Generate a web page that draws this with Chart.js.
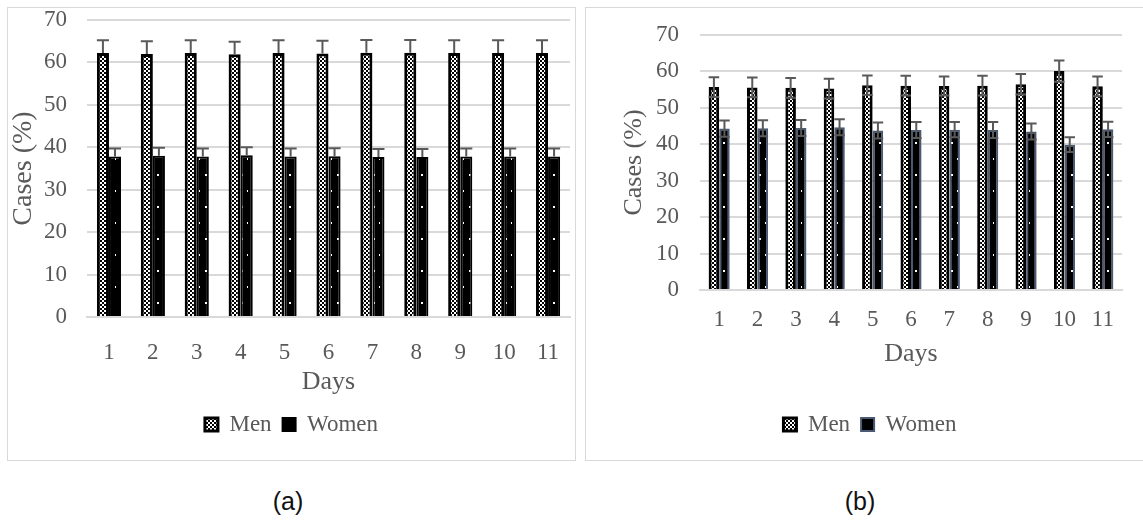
<!DOCTYPE html>
<html>
<head>
<meta charset="utf-8">
<script src="https://cdn.jsdelivr.net/npm/chart.js@4.4.1/dist/chart.umd.min.js"></script>
<style>
  body { margin: 0; background: #fff; width: 1143px; height: 527px; position: relative; overflow: hidden; }
  .panel { position: absolute; top: 7px; border: 1px solid #d9d9d9; background: #fff; }
  #pa { left: 7px; width: 567px; height: 452px; }
  #pb { left: 585px; width: 594px; height: 452px; }
  canvas { display: block; }
  .cap { position: absolute; top: 487px; font: 25px "Liberation Sans", Arial, sans-serif; color: #111; transform: translateX(-50%); }
</style>
</head>
<body>
<div class="panel" id="pa"><canvas id="ca" width="567" height="452"></canvas></div>
<div class="panel" id="pb"><canvas id="cb" width="594" height="452"></canvas></div>
<div class="cap" style="left:288px">(a)</div>
<div class="cap" style="left:860px">(b)</div>
<script>
// Day categories shared by both panels
const days = ['1', '2', '3', '4', '5', '6', '7', '8', '9', '10', '11'];

// Panel (a): share of cases (%) by sex, with upper error
const menA   = [62.2, 62.0, 62.2, 61.9, 62.2, 62.1, 62.3, 62.3, 62.2, 62.2, 62.2];
const womenA = [37.8, 38.0, 37.8, 38.1, 37.8, 37.9, 37.7, 37.7, 37.8, 37.8, 37.8];
const errMenA   = [3.0, 3.0, 3.0, 3.0, 3.0, 3.0, 3.0, 3.0, 3.0, 3.0, 3.0];
const errWomenA = [1.9, 1.9, 1.9, 1.9, 1.9, 1.9, 1.9, 1.9, 1.9, 1.9, 1.9];

// Panel (b): share of cases (%) by sex, with symmetric error
const menB   = [55.7, 55.6, 55.5, 55.3, 56.2, 56.1, 56.0, 56.1, 56.5, 60.1, 55.9];
const womenB = [44.3, 44.4, 44.5, 44.7, 43.8, 43.9, 44.0, 43.9, 43.5, 39.9, 44.1];
const errMenB   = [2.7, 2.7, 2.7, 2.7, 2.7, 2.7, 2.6, 2.7, 2.8, 2.9, 2.7];
const errWomenB = [2.2, 2.2, 2.2, 2.2, 2.2, 2.2, 2.1, 2.2, 2.2, 2.0, 2.1];

const yTicks = [0, 10, 20, 30, 40, 50, 60, 70];

const SERIF = '"Liberation Serif", "Times New Roman", serif';
const TEXT = '#595959';
const GRID = '#d9d9d9';

// Fine checkerboard fill for the Men bars
function checkerPattern() {
  const c = document.createElement('canvas');
  c.width = 4; c.height = 4;
  const g = c.getContext('2d');
  g.fillStyle = '#fff'; g.fillRect(0, 0, 4, 4);
  g.fillStyle = '#000';
  g.fillRect(0, 0, 2, 2); g.fillRect(2, 2, 2, 2);
  return g.createPattern(c, 'repeat');
}
// Black fill with sparse white dots for the Women bars
function dotPattern() {
  const c = document.createElement('canvas');
  c.width = 12; c.height = 32;
  const g = c.getContext('2d');
  g.fillStyle = '#000'; g.fillRect(0, 0, 12, 32);
  g.fillStyle = '#fff';
  g.fillRect(5, 6, 2, 2);
  g.fillRect(11, 22, 2, 2);
  return g.createPattern(c, 'repeat');
}

// Draws error bars from each dataset's errorBars array
const errorBarPlugin = {
  id: 'errorBars',
  afterDatasetsDraw(chart, args, opts) {
    const ctx = chart.ctx;
    const y = chart.scales.y;
    ctx.save();
    ctx.strokeStyle = opts.color || '#595959';
    ctx.lineWidth = 2;
    chart.data.datasets.forEach((ds, di) => {
      const meta = chart.getDatasetMeta(di);
      if (!ds.errorBars) return;
      meta.data.forEach((bar, i) => {
        const v = ds.data[i], e = ds.errorBars[i];
        const half = bar.width / 2;
        const top = y.getPixelForValue(v + e);
        const bot = opts.both ? y.getPixelForValue(v - e) : y.getPixelForValue(v);
        ctx.beginPath();
        ctx.moveTo(bar.x, top); ctx.lineTo(bar.x, bot);
        ctx.moveTo(bar.x - half, top); ctx.lineTo(bar.x + half, top);
        if (opts.both) { ctx.moveTo(bar.x - half, bot); ctx.lineTo(bar.x + half, bot); }
        ctx.stroke();
      });
    });
    ctx.restore();
  }
};

function makeChart(id, men, women, errMen, errWomen, cfg) {
  const chk = checkerPattern();
  const dots = dotPattern();
  return new Chart(document.getElementById(id), {
    type: 'bar',
    data: {
      labels: days,
      datasets: [
        { label: 'Men', data: men, errorBars: errMen, backgroundColor: chk,
          borderColor: '#000', borderWidth: cfg.menBorderWidth,
          categoryPercentage: 0.55, barPercentage: 1.0 },
        { label: 'Women', data: women, errorBars: errWomen, backgroundColor: dots,
          borderColor: cfg.womenBorder, borderWidth: cfg.womenBorderWidth,
          categoryPercentage: 0.55, barPercentage: 1.0 }
      ]
    },
    plugins: [errorBarPlugin],
    options: {
      responsive: false,
      devicePixelRatio: 1,
      animation: false,
      layout: { padding: { top: cfg.padTop, right: cfg.padRight, bottom: 14, left: 0 } },
      plugins: {
        errorBars: { both: cfg.both, color: '#595959' },
        tooltip: { enabled: false },
        legend: {
          position: 'bottom',
          labels: {
            font: { family: SERIF, size: 23 },
            color: TEXT,
            boxWidth: 13, boxHeight: 13, padding: 11
          }
        }
      },
      scales: {
        x: {
          grid: { display: false, drawTicks: false },
          border: { display: true, color: GRID, width: 2 },
          ticks: { font: { family: SERIF, size: 23 }, color: TEXT, padding: cfg.xTickPad,
                   maxRotation: 0, autoSkip: false },
          title: { display: true, text: 'Days', font: { family: SERIF, size: 26 },
                   color: TEXT, padding: { top: 0, bottom: cfg.xTitlePad } },
          afterFit(scale) {
            scale.height = cfg.xHeight;
            scale.paddingLeft = 0; scale.paddingRight = cfg.plotRight;
          }
        },
        y: {
          min: 0, max: 70,
          afterBuildTicks(scale) { scale.ticks = yTicks.map(v => ({ value: v })); },
          grid: { color: GRID, lineWidth: 2, drawTicks: false },
          border: { display: false },
          ticks: { font: { family: SERIF, size: 23, lineHeight: 1 }, color: TEXT, padding: cfg.yTickPad },
          title: { display: true, text: 'Cases (%)', font: { family: SERIF, size: cfg.yTitleSize, lineHeight: 1.1 },
                   color: TEXT, padding: { top: cfg.yTitlePad, bottom: 0 } },
          afterFit(scale) {
            scale.width = cfg.yWidth;
            scale.paddingTop = 0; scale.paddingBottom = 0;
          }
        }
      }
    }
  });
}

makeChart('ca', menA, womenA, errMenA, errWomenA, {
  both: false, menBorderWidth: 3, womenBorder: '#000', womenBorderWidth: 2,
  padTop: 12, padRight: 0, plotRight: 5, xHeight: 85, xTickPad: 22, xTitlePad: 4,
  yWidth: 79, yTickPad: 20, yTitlePad: 0, yTitleSize: 28
});
makeChart('cb', menB, womenB, errMenB, errWomenB, {
  both: true, menBorderWidth: 3, womenBorder: '#4a5a73', womenBorderWidth: 2,
  padTop: 27, padRight: 26, plotRight: 58, xHeight: 112, xTickPad: 16, xTitlePad: 32,
  yWidth: 114, yTickPad: 21, yTitlePad: 34, yTitleSize: 26
});
</script>
</body>
</html>
